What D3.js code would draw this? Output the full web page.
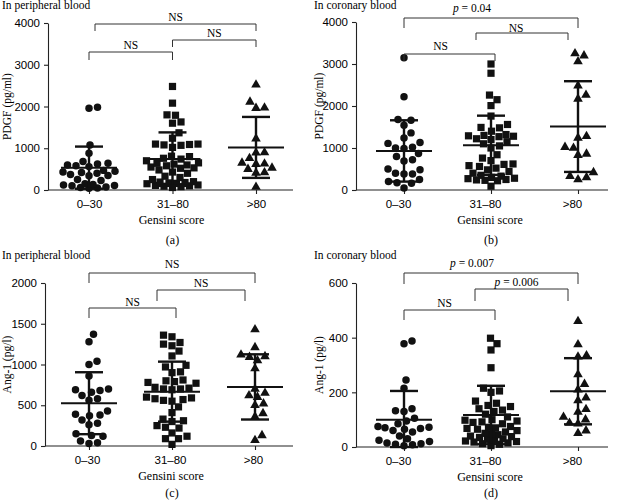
<!DOCTYPE html>
<html>
<head>
<meta charset="utf-8">
<script src="https://cdn.jsdelivr.net/npm/d3@7"></script>
<style>
  body { margin: 0; background: #fff; }
  svg { display: block; font-family: "Liberation Serif", "DejaVu Serif", serif; }
</style>
</head>
<body>
<script>
const grupos = ['0–30', '31–80', '>80']

// (a) PDGF, sangue periferico
const pdgfPerif0 = [1980, 1960, 1080, 880, 680, 640, 620, 600, 580, 560, 470, 450, 430, 420, 400, 370, 350, 340, 250, 230, 150, 130, 120, 110, 100, 70, 60, 50, 40]
const pdgfPerif1 = [2480, 2080, 1800, 1790, 1630, 1600, 1370, 1240, 1100, 1090, 1080, 1070, 1100, 1020, 810, 800, 760, 740, 700, 650, 640, 620, 600, 580, 550, 530, 520, 480, 430, 400, 330, 300, 250, 200, 190, 180, 170, 160, 150, 120, 110, 100, 90, 80, 60]
const pdgfPerif2 = [2520, 2110, 1970, 1960, 1230, 900, 890, 760, 650, 630, 620, 530, 500, 420, 410, 70]
const mediasA = [535, 740, 1020]
const dpsA = [505, 640, 730]

// (b) PDGF, sangue coronario
const pdgfCoron0 = [3150, 2220, 1680, 1660, 1540, 1360, 1240, 1130, 1110, 1020, 1000, 990, 870, 800, 720, 690, 500, 480, 400, 380, 380, 250, 200, 170, 160, 50]
const pdgfCoron1 = [3000, 2780, 2260, 2150, 2010, 1760, 1560, 1490, 1480, 1400, 1320, 1300, 1290, 1280, 1270, 1220, 1200, 1150, 1100, 1050, 1000, 840, 760, 700, 620, 610, 580, 560, 520, 480, 440, 400, 350, 330, 300, 280, 270, 250, 240, 230, 220, 90]
const pdgfCoron2 = [3250, 3200, 3060, 2480, 2260, 2170, 1280, 1240, 1020, 1000, 860, 830, 420, 330, 300, 250]
const mediasB = [930, 1065, 1510]
const dpsB = [730, 705, 1080]

// (c) Ang-1, sangue periferico
const angPerif0 = [1370, 1280, 1040, 1000, 860, 700, 690, 680, 660, 620, 580, 560, 430, 390, 380, 370, 320, 280, 260, 150, 130, 120, 60, 40, 30]
const angPerif1 = [1360, 1340, 1270, 1250, 1230, 1165, 1105, 990, 970, 910, 900, 810, 800, 790, 780, 770, 720, 710, 700, 700, 690, 600, 590, 580, 570, 560, 550, 480, 410, 330, 310, 300, 250, 230, 220, 160, 120, 90, 90, 20]
const angPerif2 = [1430, 1210, 1120, 1100, 1090, 1050, 950, 700, 650, 620, 600, 520, 500, 400, 360, 130, 70]
const mediasC = [525, 667, 725]
const dpsC = [380, 368, 400]

// (d) Ang-1, sangue coronario
const angCoron0 = [388, 378, 245, 215, 140, 133, 130, 105, 95, 85, 75, 72, 70, 68, 65, 60, 55, 40, 30, 25, 20, 15, 12, 10, 8, 5]
const angCoron1 = [398, 378, 355, 290, 215, 205, 200, 168, 160, 152, 148, 140, 135, 130, 120, 110, 100, 98, 95, 92, 90, 85, 75, 72, 70, 68, 65, 60, 55, 50, 48, 45, 40, 38, 35, 30, 28, 25, 22, 20, 18, 15, 12, 10, 5]
const angCoron2 = [460, 375, 335, 330, 265, 230, 210, 180, 170, 138, 128, 110, 100, 88, 85, 60, 50]
const mediasD = [100, 117, 204]
const dpsD = [105, 107, 121]

// comparacoes: [de, ate, rotulo]
const chavesA = [[0, 2, 'NS'], [1, 2, 'NS'], [0, 1, 'NS']]
const chavesB = [[0, 2, '0.04'], [1, 2, 'NS'], [0, 1, 'NS']]
const chavesC = [[0, 2, 'NS'], [1, 2, 'NS'], [0, 1, 'NS']]
const chavesD = [[0, 2, '0.007'], [1, 2, '0.006'], [0, 1, 'NS']]

const ticksPdgf = [0, 1000, 2000, 3000, 4000]
const ticksAngP = [0, 500, 1000, 1500, 2000]
const ticksAngC = [0, 200, 400, 600]

// geometria das chaves: y, fim da perna, deslocamentos
const geoA = [
  {y: 24, perna: 31, dx1: 6, dx2: 0, ly: 21, ldx: 0},
  {y: 40, perna: 47, dx1: 0, dx2: 0, ly: 37, ldx: 0},
  {y: 52, perna: 60, dx1: 0, dx2: 0, ly: 49, ldx: 0}]
const geoB = [
  {y: 18, perna: 28, dx1: 0, dx2: 0, ly: 12, ldx: -19},
  {y: 33, perna: 40, dx1: -15, dx2: -10, ly: 32, ldx: -6},
  {y: 54, perna: 61, dx1: 0, dx2: 4, ly: 50, ldx: -9}]
const geoC = [
  {y: 23, perna: 33, dx1: 0, dx2: 0, ly: 18, ldx: 0},
  {y: 40, perna: 51, dx1: -15, dx2: -10, ly: 37, ldx: 0},
  {y: 58, perna: 68, dx1: 0, dx2: 4, ly: 56, ldx: 0}]
const geoD = [
  {y: 23, perna: 34, dx1: 0, dx2: 0, ly: 17, ldx: -19},
  {y: 39, perna: 51, dx1: -16, dx2: -10, ly: 36, ldx: -5},
  {y: 60, perna: 70, dx1: 0, dx2: 4, ly: 57, ldx: -5}]

const paineis = [
  {letra: '(a)', titulo: 'In peripheral blood', rotulo: 'PDGF (pg/ml)',
   dados: [pdgfPerif0, pdgfPerif1, pdgfPerif2], medias: mediasA, dps: dpsA,
   ticks: ticksPdgf, chaves: chavesA, geo: geoA,
   ox: 0, oy: 0, eixoX: 48, fimX: 293, topo: 23, base: 190, cats: [89, 256], tdx: 0, ly: 54},
  {letra: '(b)', titulo: 'In coronary blood', rotulo: 'PDGF (pg/ml)',
   dados: [pdgfCoron0, pdgfCoron1, pdgfCoron2], medias: mediasB, dps: dpsB,
   ticks: ticksPdgf, chaves: chavesB, geo: geoB,
   ox: 312, oy: 0, eixoX: 44, fimX: 296, topo: 22, base: 190, cats: [92, 266], tdx: -6, ly: 54},
  {letra: '(c)', titulo: 'In peripheral blood', rotulo: 'Ang-1 (pg/l)',
   dados: [angPerif0, angPerif1, angPerif2], medias: mediasC, dps: dpsC,
   ticks: ticksAngP, chaves: chavesC, geo: geoC,
   ox: 0, oy: 250, eixoX: 45, fimX: 293, topo: 33, base: 196, cats: [89, 255], tdx: -2, ly: 51},
  {letra: '(d)', titulo: 'In coronary blood', rotulo: 'Ang-1 (pg/l)',
   dados: [angCoron0, angCoron1, angCoron2], medias: mediasD, dps: dpsD,
   ticks: ticksAngC, chaves: chavesD, geo: geoD,
   ox: 312, oy: 250, eixoX: 44, fimX: 296, topo: 33, base: 197, cats: [92, 266], tdx: -6, ly: 50}
]

const simbolos = [d3.symbolCircle, d3.symbolSquare, d3.symbolTriangle]
const tamanhos = [44, 52, 40]
const fonte = 11.5

const svg = d3.select('body').append('svg')
  .attr('width', 624).attr('height', 502)

paineis.forEach(desenhaPainel)

// espalha os pontos na horizontal, como no grafico original (com limite de largura)
function enxame (valores, y, diam, limite) {
  const pts = valores.map(v => ({v: v, y: y(v)})).sort((a, b) => a.v - b.v)
  const feitos = []
  pts.forEach(p => {
    let melhor = 0
    let melhorDist = -1
    for (let k = 0; k < 1000; k++) {
      const dx = k === 0 ? 0 : (k % 2 ? 1 : -1) * Math.ceil(k / 2) * 0.5
      if (Math.abs(dx) > limite) break
      let dmin = Infinity
      feitos.forEach(q => {
        const d = Math.sqrt((q.dx - dx) ** 2 + (q.y - p.y) ** 2)
        if (d < dmin) dmin = d
      })
      if (dmin >= diam) { melhor = dx; melhorDist = dmin; break }
      if (dmin > melhorDist + 0.01) { melhorDist = dmin; melhor = dx }
    }
    p.dx = melhor
    feitos.push(p)
  })
  return feitos
}

function desenhaPainel (p) {
  const g = svg.append('g')
    .attr('transform', 'translate(' + p.ox + ',' + p.oy + ')')

  const y = d3.scaleLinear()
    .domain([0, d3.max(p.ticks)])
    .range([p.base, p.topo])

  const x = d3.scalePoint()
    .domain(grupos)
    .range(p.cats)

  // titulo
  g.append('text')
    .attr('x', 2).attr('y', 9)
    .style('font-size', fonte + 'px')
    .text(p.titulo)

  // eixo y
  const eixoY = g.append('g')
    .attr('transform', 'translate(' + p.eixoX + ',0)')
    .call(d3.axisLeft(y).tickValues(p.ticks).tickFormat(d3.format('d'))
      .tickSize(4).tickPadding(4).tickSizeOuter(0))
  eixoY.selectAll('text').style('font-size', fonte + 'px').style('font-family', 'inherit')
  eixoY.selectAll('line, path').attr('stroke', '#222').attr('stroke-width', 1.1)

  // eixo x
  const eixoX = g.append('g')
    .attr('transform', 'translate(0,' + p.base + ')')
    .call(d3.axisBottom(x).tickSize(4).tickPadding(6))
  eixoX.select('.domain').remove()
  eixoX.append('line')
    .attr('x1', p.eixoX).attr('x2', p.fimX)
    .attr('stroke', '#222').attr('stroke-width', 1.1)
  eixoX.selectAll('.tick line').attr('stroke', '#222').attr('stroke-width', 1.1)
  eixoX.selectAll('text')
    .attr('dx', p.tdx)
    .style('font-size', fonte + 'px').style('font-family', 'inherit')

  g.append('text')
    .attr('x', x(grupos[1]) - 1).attr('y', p.base + 34)
    .attr('text-anchor', 'middle')
    .style('font-size', '12px')
    .text('Gensini score')

  g.append('text')
    .attr('x', x(grupos[1])).attr('y', p.base + p.ly)
    .attr('text-anchor', 'middle')
    .style('font-size', '12px')
    .text(p.letra)

  g.append('text')
    .attr('transform', 'translate(11,' + ((p.base + p.topo) / 2) + ') rotate(-90)')
    .attr('text-anchor', 'middle')
    .style('font-size', fonte + 'px')
    .text(p.rotulo)

  // pontos
  p.dados.forEach((valores, i) => {
    const cx = x(grupos[i])
    const pts = enxame(valores, y, 8.4, 26)
    g.selectAll('.pt' + i)
      .data(pts)
      .enter().append('path')
        .attr('class', 'pt' + i)
        .attr('d', d3.symbol().type(simbolos[i]).size(tamanhos[i]))
        .attr('transform', d => 'translate(' + (cx + d.dx) + ',' + d.y + ')')
        .attr('fill', '#111')
  })

  // media e desvio padrao
  p.medias.forEach((m, i) => {
    const cx = x(grupos[i])
    const sup = y(m + p.dps[i])
    const inf = y(Math.max(0, m - p.dps[i]))
    const linhas = [
      [cx, sup, cx, inf, 2.4],
      [cx - 14, sup, cx + 14, sup, 2.4],
      [cx - 14, inf, cx + 14, inf, 2.4],
      [cx - 28, y(m), cx + 28, y(m), 2]
    ]
    linhas.forEach(l => {
      g.append('line')
        .attr('x1', l[0]).attr('y1', l[1]).attr('x2', l[2]).attr('y2', l[3])
        .attr('stroke', '#111').attr('stroke-width', l[4])
    })
  })

  // chaves de comparacao
  p.chaves.forEach((c, k) => {
    const geo = p.geo[k]
    const x1 = x(grupos[c[0]]) + geo.dx1
    const x2 = x(grupos[c[1]]) + geo.dx2
    g.append('path')
      .attr('d', 'M' + x1 + ',' + geo.perna + 'V' + geo.y + 'H' + x2 + 'V' + geo.perna)
      .attr('fill', 'none').attr('stroke', '#333').attr('stroke-width', 1)
    const t = g.append('text')
      .attr('x', (x1 + x2) / 2 + geo.ldx).attr('y', geo.ly)
      .attr('text-anchor', 'middle')
      .style('font-size', fonte + 'px')
    if (c[2] === 'NS') {
      t.text('NS')
    } else {
      t.append('tspan').style('font-style', 'italic').text('p')
      t.append('tspan').text(' = ' + c[2])
    }
  })
}
</script>
</body>
</html>
